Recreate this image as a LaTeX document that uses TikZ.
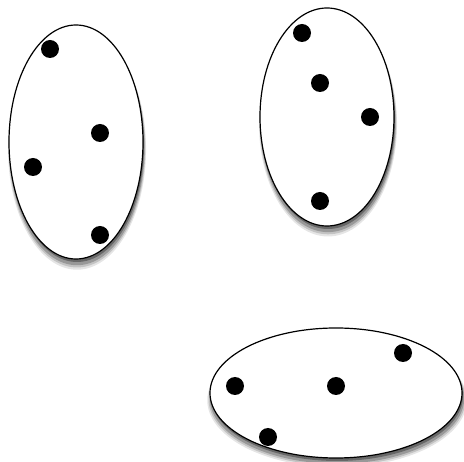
\documentclass[tikz,border=0pt]{standalone}
\usetikzlibrary{shapes.geometric, shadows}

\begin{document}
\begin{tikzpicture}[
    x=1pt, y=-1pt,
    softshadow/.style={
        drop shadow={shadow xshift=1pt, shadow yshift=-7pt, shadow scale=1.03, opacity=0.10, fill=black},
        drop shadow={shadow xshift=1pt, shadow yshift=-6pt, shadow scale=1.02, opacity=0.15, fill=black},
        drop shadow={shadow xshift=1pt, shadow yshift=-5pt, shadow scale=1.01, opacity=0.22, fill=black},
        drop shadow={shadow xshift=1pt, shadow yshift=-3pt, shadow scale=1.00, opacity=0.32, fill=black}},
    cluster/.style={ellipse, draw=black, line width=1.2pt, fill=white, inner sep=0pt, softshadow},
    point/.style={circle, fill=black, inner sep=0pt, minimum size=18pt},
    ]

    \useasboundingbox (0,0) rectangle (464,462);

    % ==========================================
    % Clusters
    % ==========================================
    \node[cluster, minimum width=134pt, minimum height=234pt] (clusterA) at (76,142) {};
    \node[cluster, minimum width=134pt, minimum height=218pt] (clusterB) at (327,117) {};
    \node[cluster, minimum width=252pt, minimum height=130pt] (clusterC) at (336,393) {};

    % ==========================================
    % Points
    % ==========================================
    \foreach \name/\x/\y in {
        a1/50/49, a2/100/133, a3/33/167, a4/100/235,
        b1/302/33, b2/320/83, b3/370/117, b4/320/201,
        c1/403/353, c2/235/386, c3/336/386, c4/268/437}
    {
        \node[point] (point-\name) at (\x,\y) {};
    }

\end{tikzpicture}
\end{document}
